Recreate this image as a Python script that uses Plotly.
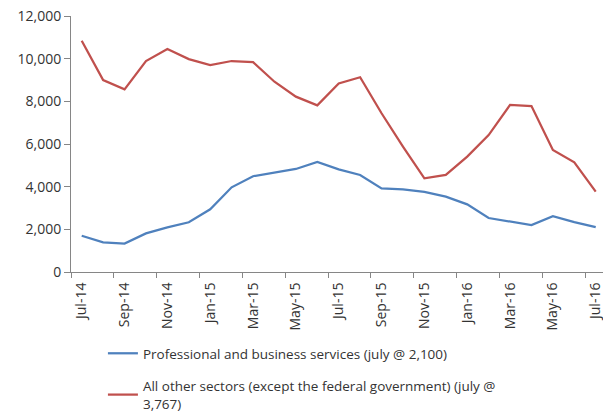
import plotly.graph_objects as go

months = ["Jul-14","Aug-14","Sep-14","Oct-14","Nov-14","Dec-14","Jan-15","Feb-15","Mar-15",
          "Apr-15","May-15","Jun-15","Jul-15","Aug-15","Sep-15","Oct-15","Nov-15","Dec-15",
          "Jan-16","Feb-16","Mar-16","Apr-16","May-16","Jun-16","Jul-16"]
professional = [1700, 1390, 1330, 1810, 2090, 2330, 2940, 3970, 4490, 4660, 4830, 5160,
                4810, 4550, 3920, 3870, 3760, 3530, 3170, 2530, 2360, 2200, 2620, 2340, 2100]
other_sectors = [10840, 9000, 8560, 9890, 10450, 9980, 9700, 9890, 9840, 8920, 8220, 7810,
                 8840, 9130, 7440, 5880, 4390, 4550, 5410, 6420, 7830, 7780, 5720, 5140, 3767]
name_prof = "Professional and business services (july @ 2,100)"
name_other = "All other sectors (except the federal government) (july @<br>3,767)"
y_ticks = [0, 2000, 4000, 6000, 8000, 10000, 12000]

x = list(range(len(months)))
tick_idx = x[::2]

fig = go.Figure()
fig.add_trace(go.Scatter(x=x, y=professional, mode="lines", name=name_prof,
                         line=dict(color="#4F81BD", width=2.25), legendgroup="a"))
fig.add_trace(go.Scatter(x=x, y=other_sectors, mode="lines", name=name_other,
                         line=dict(color="#C0504D", width=2.25), legendgroup="b"))

font = "Open Sans, Liberation Sans, sans-serif"
fig.update_layout(
    width=603, height=415,
    margin=dict(l=71, r=0, t=16, b=143, autoexpand=False),
    paper_bgcolor="white", plot_bgcolor="white",
    font=dict(family=font, size=13, color="#333333"),
    showlegend=True,
    legend=dict(orientation="v", x=0.06, xanchor="left",
                yref="container", y=1 - 338 / 415, yanchor="top",
                tracegroupgap=12, font=dict(size=13.5, color="#333333"),
                itemwidth=30),
    xaxis=dict(range=[-0.5, 24.34], tickmode="array", tickvals=tick_idx,
               ticktext=[months[i] for i in tick_idx], tickangle=-90,
               ticklabeloverflow="allow", automargin=False, ticklabelstandoff=4,
               showgrid=False, zeroline=False, showline=True, linecolor="#868686",
               linewidth=1, ticks="",
               minor=dict(ticks="outside", tick0=-0.5, dtick=2, ticklen=5,
                          tickcolor="#868686", showgrid=False),
               tickfont=dict(size=14, color="#333333")),
    yaxis=dict(range=[0, 12000], tickvals=y_ticks, tickformat=",", automargin=False,
               showgrid=False, zeroline=False, showline=True, linecolor="#868686",
               linewidth=1, ticks="outside", ticklen=6, tickcolor="#868686",
               tickfont=dict(size=14, color="#333333")),
)

fig.write_html("out.html")
